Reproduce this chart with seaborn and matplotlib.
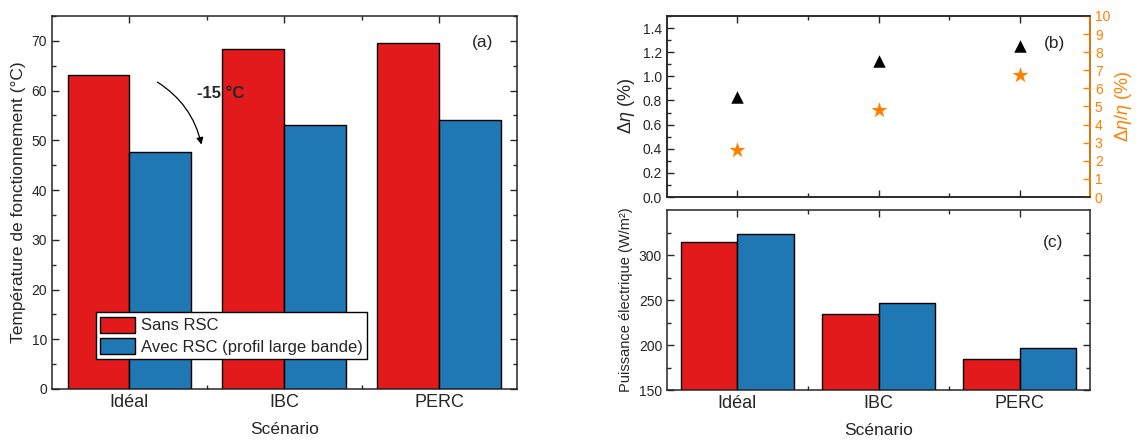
import numpy as np
import pandas as pd
import matplotlib
matplotlib.use("Agg")
import matplotlib.pyplot as plt
from matplotlib.ticker import MultipleLocator, FixedLocator
import seaborn as sns

scenarios = ["Idéal", "IBC", "PERC"]
series = ["Sans RSC", "Avec RSC (profil large bande)"]
temp_sans = [63.1, 68.4, 69.5]
temp_avec = [47.7, 53.1, 54.1]
d_eta = [0.83, 1.13, 1.25]
d_eta_rel = [2.6, 4.8, 6.75]
power_sans = [314.5, 235.0, 184.0]
power_avec = [323.0, 246.5, 196.5]

red = "#E31A1C"
blue = "#1F77B4"
orange = "#FF8000"

sns.set_style("ticks")
plt.rcParams["font.family"] = ["Liberation Sans", "DejaVu Sans"]
plt.rcParams["mathtext.fontset"] = "custom"
plt.rcParams["mathtext.rm"] = "Liberation Sans"
plt.rcParams["mathtext.it"] = "Liberation Sans:italic"
plt.rcParams["axes.linewidth"] = 1.1

temp_df = pd.DataFrame({
    "scenario": scenarios * 2,
    "serie": [series[0]] * 3 + [series[1]] * 3,
    "val": temp_sans + temp_avec,
})
power_df = pd.DataFrame({
    "scenario": scenarios * 2,
    "serie": [series[0]] * 3 + [series[1]] * 3,
    "val": power_sans + power_avec,
})
pal = {series[0]: red, series[1]: blue}

fig = plt.figure(figsize=(11.48, 4.44), dpi=100)
ax_a = fig.add_axes([0.0453, 0.1239, 0.405, 0.840])
ax_b = fig.add_axes([0.581, 0.5563, 0.3685, 0.4077])
ax_c = fig.add_axes([0.581, 0.1216, 0.3685, 0.4054])


def style_ticks(ax, right=True):
    ax.tick_params(which="both", direction="in", top=True, right=right,
                   width=1, labelsize=10)
    ax.tick_params(which="major", length=5)
    ax.tick_params(which="minor", length=3)
    ax.xaxis.set_minor_locator(FixedLocator([0.5, 1.5]))
    ax.tick_params(axis="x", labelsize=13)


# (a) operating temperature
sns.barplot(data=temp_df, x="scenario", y="val", hue="serie", palette=pal,
            saturation=1, edgecolor="black", linewidth=1, width=0.8, gap=0,
            ax=ax_a, errorbar=None)
ax_a.set_xlim(-0.5, 2.5)
ax_a.set_ylim(0, 75)
ax_a.yaxis.set_major_locator(MultipleLocator(10))
ax_a.yaxis.set_minor_locator(MultipleLocator(5))
style_ticks(ax_a)
ax_a.set_xlabel("Scénario", fontsize=12.5, labelpad=8)
ax_a.set_ylabel("Température de fonctionnement (°C)", fontsize=12.5, labelpad=4)
ax_a.text(0.925, 0.928, "(a)", transform=ax_a.transAxes, fontsize=12.5,
          ha="center", va="center")
h, l = ax_a.get_legend_handles_labels()
ax_a.legend(h, l, loc="lower left", bbox_to_anchor=(0.095, 0.08),
            borderaxespad=0, fontsize=12, frameon=True, fancybox=False,
            edgecolor="black", framealpha=1, handlelength=2.05,
            handleheight=1.1, handletextpad=0.4, labelspacing=0.3,
            borderpad=0.25)
ax_a.get_legend().get_frame().set_linewidth(1)
ax_a.annotate("", xy=(0.468, 48.6), xytext=(0.165, 62.0),
              arrowprops=dict(arrowstyle="-|>", color="black", lw=0.9,
                              mutation_scale=10,
                              connectionstyle="arc3,rad=-0.22"))
ax_a.text(0.59, 59.4, "-15 °C", fontsize=12, fontweight="bold",
          ha="center", va="center")

# (b) efficiency gain
sns.stripplot(x=scenarios, y=d_eta, marker="^", jitter=False, size=9,
              color="black", ax=ax_b)
ax_b2 = ax_b.twinx()
sns.stripplot(x=scenarios, y=d_eta_rel, marker="*", jitter=False, size=12,
              color=orange, ax=ax_b2)
ax_b.set_xlim(-0.5, 2.5)
ax_b.set_ylim(0, 1.5)
ax_b2.set_ylim(0, 10)
ax_b.yaxis.set_major_locator(MultipleLocator(0.2))
ax_b.yaxis.set_minor_locator(MultipleLocator(0.1))
ax_b2.yaxis.set_major_locator(MultipleLocator(1))
style_ticks(ax_b, right=False)
ax_b.tick_params(axis="x", labelbottom=False)
ax_b2.tick_params(which="both", direction="in", length=5, width=1,
                  colors=orange, labelsize=10)
ax_b2.spines["right"].set_color(orange)
ax_b.set_xlabel("")
ax_b.set_ylabel(r"$\Delta\eta$ (%)", fontsize=13, labelpad=4)
ax_b2.set_ylabel(r"$\Delta\eta/\eta$ (%)", fontsize=13, color=orange,
                 labelpad=2)
ax_b.text(0.917, 0.85, "(b)", transform=ax_b.transAxes, fontsize=12.5,
          ha="center", va="center")

# (c) electrical power
sns.barplot(data=power_df, x="scenario", y="val", hue="serie", palette=pal,
            saturation=1, edgecolor="black", linewidth=1, width=0.8, gap=0,
            ax=ax_c, errorbar=None, legend=False)
ax_c.set_xlim(-0.5, 2.5)
ax_c.set_ylim(150, 350)
ax_c.yaxis.set_major_locator(FixedLocator([150, 200, 250, 300]))
ax_c.yaxis.set_minor_locator(FixedLocator([175, 225, 275, 325]))
style_ticks(ax_c)
ax_c.set_xlabel("Scénario", fontsize=12.5, labelpad=8)
ax_c.set_ylabel("Puissance électrique (W/m²)", fontsize=10.5, labelpad=4)
ax_c.text(0.913, 0.82, "(c)", transform=ax_c.transAxes, fontsize=12.5,
          ha="center", va="center")

fig.savefig("out.png", dpi=100)
